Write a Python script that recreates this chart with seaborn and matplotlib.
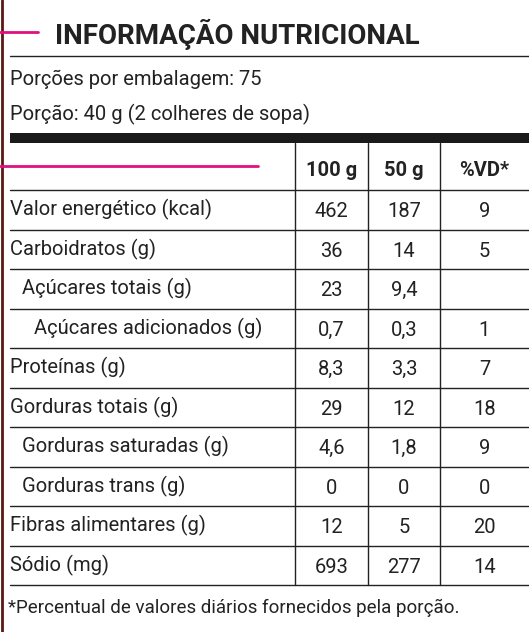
import matplotlib.pyplot as plt
import seaborn as sns

nutrients = ['Valor energético (kcal)', 'Carboidratos (g)', 'Açúcares totais (g)',
             'Açúcares adicionados (g)', 'Proteínas (g)', 'Gorduras totais (g)',
             'Gorduras saturadas (g)', 'Gorduras trans (g)', 'Fibras alimentares (g)',
             'Sódio (mg)']
indent = [0, 0, 1, 2, 0, 0, 1, 1, 0, 0]
per_100g = ['462', '36', '23', '0,7', '8,3', '29', '4,6', '0', '12', '693']
per_50g = ['187', '14', '9,4', '0,3', '3,3', '12', '1,8', '0', '5', '277']
pct_vd = ['9', '5', '', '1', '7', '18', '9', '0', '20', '14']
columns = ['100 g', '50 g', '%VD*']

sns.set_style('white')
plt.rcParams['font.family'] = ['Liberation Sans Narrow', 'Roboto', 'DejaVu Sans']

fig = plt.figure(figsize=(5.29, 6.32), dpi=100)
ax = fig.add_axes([0, 0, 1, 1])
ax.set_xlim(0, 529)
ax.set_ylim(632, 0)
ax.axis('off')

# left border and magenta marks
ax.plot([1.5, 1.5], [0, 632], color='#5a1a14', lw=2)
ax.plot([0, 38], [32, 32], color='#e0107f', lw=2)
ax.plot([0, 258], [166, 166], color='#e0107f', lw=2, zorder=3)

ax.text(55, 34, 'INFORMAÇÃO NUTRICIONAL', fontsize=20, fontweight='bold',
        va='center', color='#222222')
ax.plot([10, 529], [56, 56], color='#222222', lw=1)
ax.text(10, 79, 'Porções por embalagem: 75', fontsize=14.5, va='center', color='#222222')
ax.text(10, 114, 'Porção: 40 g (2 colheres de sopa)', fontsize=14.5, va='center', color='#222222')
ax.fill_between([10, 529], 133, 143, color='#1a1a1a', lw=0)

col_edges = [295, 368, 440, 529]
top, first, bottom = 143, 190, 585
rh = (bottom - first) / len(nutrients)

for x in col_edges[:3]:
    ax.plot([x, x], [top, bottom], color='#222222', lw=1)
for i, c in enumerate(columns):
    ax.text((col_edges[i] + col_edges[i + 1]) / 2, 171, c, fontsize=14.5,
            fontweight='bold', ha='center', va='center', color='#222222')

for r in range(len(nutrients) + 1):
    y = first + r * rh
    ax.plot([10, 529], [y, y], color='#222222', lw=1)

for r, name in enumerate(nutrients):
    yc = first + (r + 0.5) * rh
    ax.text(10 + indent[r] * 12, yc, name, fontsize=14.5, va='center', color='#222222')
    for i, v in enumerate([per_100g[r], per_50g[r], pct_vd[r]]):
        ax.text((col_edges[i] + col_edges[i + 1]) / 2, yc + 2, v, fontsize=14.5,
                ha='center', va='center', color='#222222')

ax.text(8, 608, '*Percentual de valores diários fornecidos pela porção.', fontsize=13.5,
        va='center', color='#222222')

fig.savefig('out.png', dpi=100)
